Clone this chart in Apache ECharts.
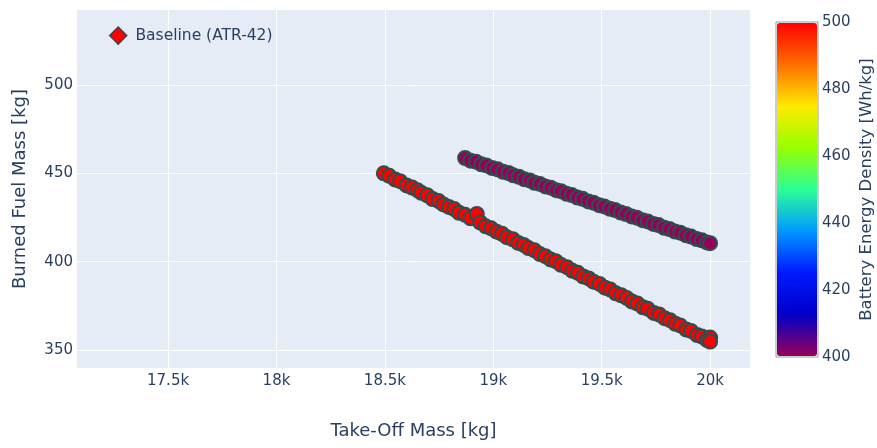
<!DOCTYPE html>
<html>
<head>
<meta charset="utf-8">
<script src="https://cdn.jsdelivr.net/npm/echarts@6/dist/echarts.min.js"></script>
<style>
  html, body { margin: 0; padding: 0; background: #fff; }
  #chart { width: 877px; height: 448px; }
</style>
</head>
<body>
<div id="chart"></div>
<script>
// design at 500 Wh/kg (red band)
const redMass = [18495, 18520, 18548, 18570, 18600, 18625, 18650, 18668, 18695, 18720, 18748, 18770, 18795, 18820, 18842, 18870, 18895, 18924, 18940, 18965, 18990, 19015, 19040, 19062, 19090, 19115, 19140, 19162, 19190, 19215, 19240, 19265, 19288, 19312, 19340, 19365, 19390, 19415, 19440, 19462, 19490, 19515, 19540, 19565, 19590, 19615, 19640, 19665, 19690, 19712, 19740, 19765, 19790, 19815, 19840, 19862, 19890, 19912, 19940, 19962, 19985, 20000, 20000]
const redFuel = [450.0, 448.6, 446.5, 445.6, 443.2, 442.0, 440.5, 439.0, 437.6, 435.5, 434.3, 432.4, 431.0, 429.8, 427.7, 426.5, 424.6, 427.0, 422.2, 420.0, 418.9, 417.0, 415.8, 413.9, 412.7, 410.6, 409.5, 407.7, 406.4, 404.3, 403.1, 401.2, 400.3, 398.2, 396.9, 394.8, 393.7, 391.6, 390.5, 388.7, 387.4, 385.3, 384.2, 382.1, 381.0, 379.5, 377.4, 376.3, 374.2, 373.4, 371.0, 370.1, 368.0, 366.9, 364.8, 363.9, 361.6, 360.8, 358.5, 357.6, 355.8, 357.0, 354.8]

// design at 400 Wh/kg (purple band)
const purpleMass = [18870, 18895, 18920, 18945, 18968, 18995, 19020, 19045, 19070, 19092, 19118, 19142, 19168, 19190, 19215, 19240, 19265, 19290, 19312, 19338, 19362, 19388, 19412, 19438, 19462, 19488, 19512, 19538, 19562, 19588, 19612, 19638, 19662, 19688, 19712, 19738, 19762, 19788, 19812, 19838, 19862, 19888, 19912, 19938, 19962, 19985, 20000]
const purpleFuel = [458.7, 457.2, 456.6, 455.1, 454.5, 453.0, 452.3, 450.9, 450.2, 448.9, 448.1, 446.7, 446.0, 444.7, 444.0, 442.6, 441.9, 440.5, 439.9, 438.4, 437.7, 436.3, 435.6, 434.1, 433.4, 432.0, 431.3, 429.9, 429.2, 427.8, 427.0, 425.6, 424.9, 423.5, 422.8, 421.4, 420.7, 419.2, 418.5, 417.1, 416.4, 415.0, 414.2, 412.8, 412.1, 410.9, 410.5]

const bandDensity = [500, 400]

const baselineMass = [17270]
const baselineFuel = [528]
const baselineName = 'Baseline (ATR-42)'

const xTicks = [17500, 18000, 18500, 19000, 19500, 20000]
const yTicks = [350, 400, 450, 500]

// plotly "Rainbow"
const rainbow = ['rgb(150,0,90)', 'rgb(0,0,200)', 'rgb(0,25,255)', 'rgb(0,152,255)', 'rgb(44,255,150)', 'rgb(151,255,0)', 'rgb(255,234,0)', 'rgb(255,111,0)', 'rgb(255,0,0)']

const font = 'DejaVu Sans'
const ink = '#2a3f5f'

function pts(xs, ys, d) {
    return xs.map((x, i) => [x, ys[i], d])
}

const myChart = echarts.init(document.getElementById('chart'))

const option = {
    backgroundColor: '#fff',
    animation: false,
    textStyle: { fontFamily: font },
    grid: [
        {
            left: 77, top: 10, width: 673, height: 358,
            show: true, backgroundColor: '#E5ECF6', borderWidth: 0
        },
        {
            // colorbar frame
            left: 776, top: 22, width: 42, height: 335,
            show: true, backgroundColor: 'transparent', borderColor: '#999', borderWidth: 1
        }
    ],
    xAxis: [
        {
            type: 'value',
            gridIndex: 0,
            min: 17080,
            max: 20184,
            name: 'Take-Off Mass [kg]',
            nameLocation: 'middle',
            nameGap: 54,
            nameTextStyle: { color: ink, fontSize: 18, fontFamily: font },
            axisLine: { show: false },
            axisTick: { show: false, customValues: xTicks },
            splitLine: { show: true, lineStyle: { color: '#fff', width: 1 } },
            axisLabel: {
                customValues: xTicks,
                color: ink, fontSize: 15, fontFamily: font, margin: 6,
                formatter: (v) => (v / 1000) + 'k'
            }
        },
        {
            type: 'value',
            gridIndex: 1,
            min: 0, max: 1,
            show: false
        }
    ],
    yAxis: [
        {
            type: 'value',
            gridIndex: 0,
            min: 339.8,
            max: 542.5,
            name: 'Burned Fuel Mass [kg]',
            nameLocation: 'middle',
            nameGap: 48,
            nameTextStyle: { color: ink, fontSize: 18, fontFamily: font },
            axisLine: { show: false },
            axisTick: { show: false, customValues: yTicks },
            splitLine: { show: true, lineStyle: { color: '#fff', width: 1 } },
            axisLabel: {
                customValues: yTicks,
                color: ink, fontSize: 15, fontFamily: font, margin: 4
            }
        },
        {
            // colorbar ticks
            type: 'value',
            gridIndex: 1,
            position: 'right',
            min: 400,
            max: 500,
            interval: 20,
            name: 'Battery Energy Density [Wh/kg]',
            nameLocation: 'middle',
            nameRotate: 90,
            nameGap: 40,
            nameTextStyle: { color: ink, fontSize: 16.5, fontFamily: font },
            axisLine: { show: false },
            axisTick: { show: false },
            splitLine: { show: false },
            axisLabel: { color: ink, fontSize: 15, fontFamily: font, margin: 4 }
        }
    ],
    visualMap: {
        type: 'continuous',
        min: 400,
        max: 500,
        dimension: 2,
        seriesIndex: [0, 1],
        inRange: { color: rainbow },
        calculable: false,
        hoverLink: false,
        padding: 0,
        itemWidth: 40,
        itemHeight: 333,
        left: 777,
        top: 23,
        text: null
    },
    series: [
        {
            name: 'E 500',
            type: 'scatter',
            xAxisIndex: 0, yAxisIndex: 0,
            symbolSize: 14,
            itemStyle: { borderColor: '#2F4F4F', borderWidth: 2, opacity: 1 },
            data: pts(redMass, redFuel, bandDensity[0])
        },
        {
            name: 'E 400',
            type: 'scatter',
            xAxisIndex: 0, yAxisIndex: 0,
            symbolSize: 14,
            itemStyle: { borderColor: '#2F4F4F', borderWidth: 2, opacity: 1 },
            data: pts(purpleMass, purpleFuel, bandDensity[1])
        },
        {
            name: baselineName,
            type: 'scatter',
            xAxisIndex: 0, yAxisIndex: 0,
            symbol: 'diamond',
            symbolSize: 17,
            itemStyle: { color: '#ff0000', borderColor: '#444', borderWidth: 1.5, opacity: 1 },
            label: {
                show: true,
                position: 'right',
                distance: 8,
                formatter: baselineName,
                color: ink, fontSize: 15.5, fontFamily: font
            },
            data: pts(baselineMass, baselineFuel, 0)
        }
    ]
}

myChart.setOption(option)
</script>
</body>
</html>
